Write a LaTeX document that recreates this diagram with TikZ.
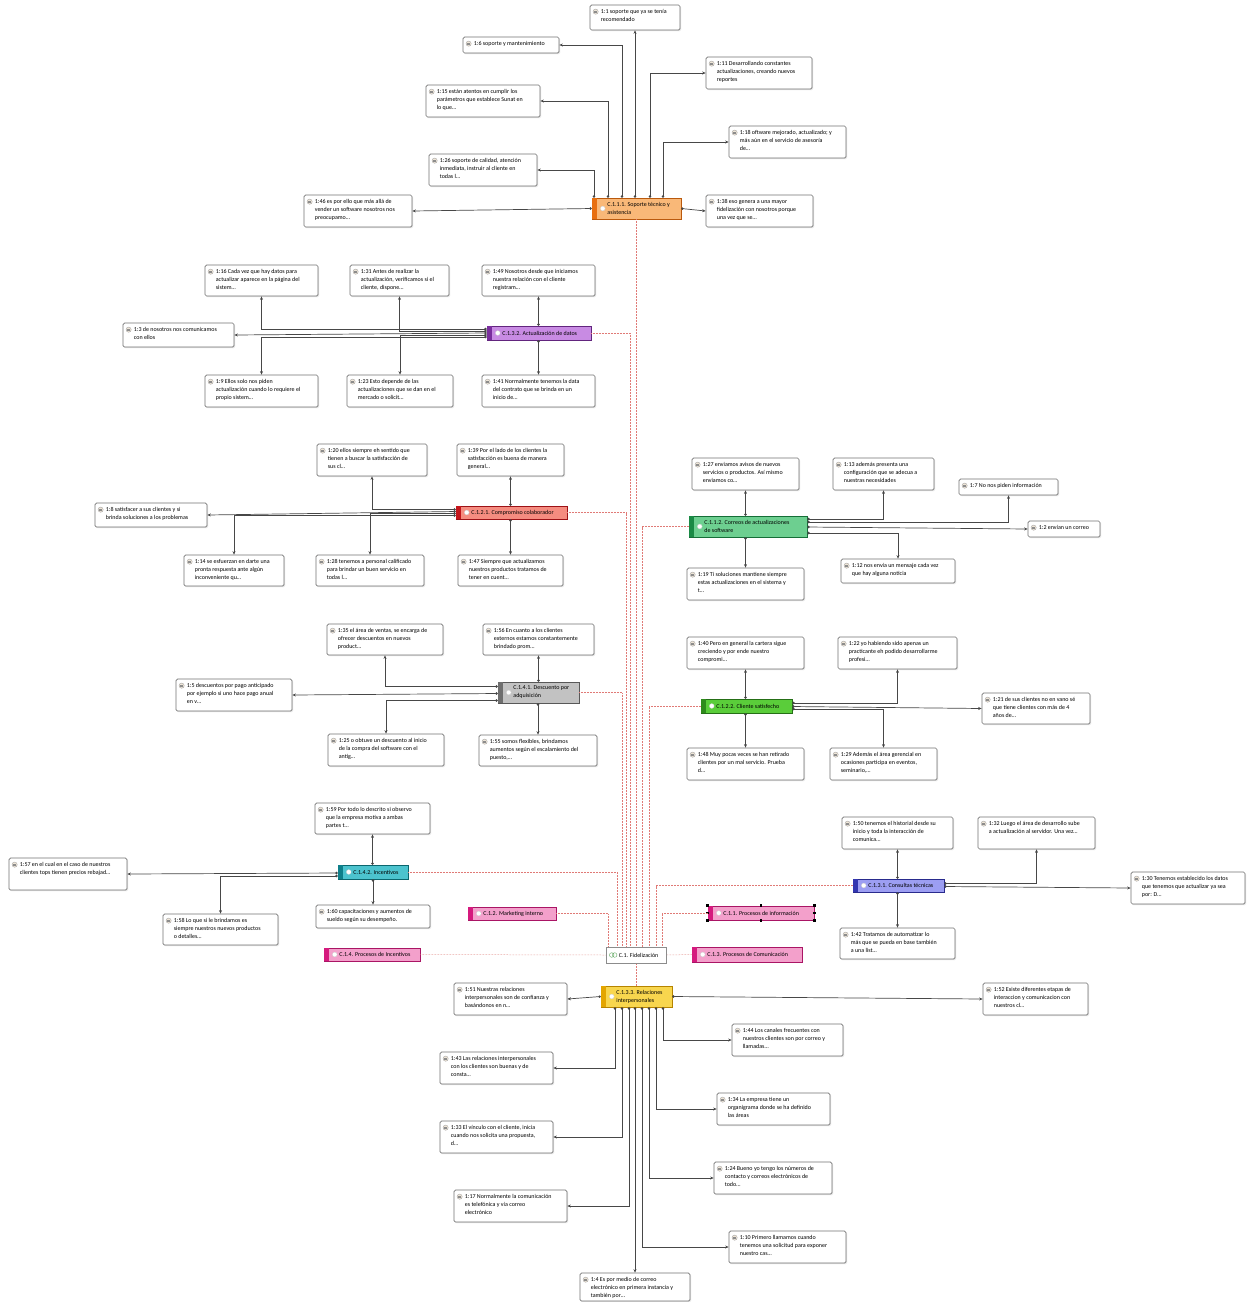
\documentclass[tikz,border=0pt]{standalone}
\usepackage{fontspec}
\setmainfont{Carlito}
\usetikzlibrary{fit,arrows.meta,calc}

% code colours: fill and stripe
\definecolor{sopF}{HTML}{F9B878}\definecolor{sopS}{HTML}{E86F10}
\definecolor{actF}{HTML}{C88BE3}\definecolor{actS}{HTML}{7A2E9E}
\definecolor{comF}{HTML}{F58C80}\definecolor{comS}{HTML}{C4161C}
\definecolor{desF}{HTML}{C2C2C2}\definecolor{desS}{HTML}{6E6E6E}
\definecolor{incF}{HTML}{4CC3CE}\definecolor{incS}{HTML}{0E7F8A}
\definecolor{corF}{HTML}{6DCF90}\definecolor{corS}{HTML}{1A8A45}
\definecolor{cliF}{HTML}{5ACD3A}\definecolor{cliS}{HTML}{2E8B1B}
\definecolor{conF}{HTML}{9C9EF2}\definecolor{conS}{HTML}{3336B0}
\definecolor{relF}{HTML}{F8D64E}\definecolor{relS}{HTML}{E3A500}
\definecolor{proF}{HTML}{F3A0CB}\definecolor{proS}{HTML}{D51A7E}
\definecolor{dotred}{HTML}{E07A76}
\definecolor{iconbg}{HTML}{EFE6D8}

\tikzset{
  qbox/.style={draw=black!55, line width=0.7pt, rounded corners=1.5pt, fill=white, inner sep=0pt},
  qshadow/.style={fill=black!10},
  qtext/.style={font=\fontsize{6}{8.2}\selectfont, text=black, align=left, inner sep=0pt},
  qicon/.style={fill=iconbg, draw=black!40, line width=0.3pt},
  cboxsty/.style={line width=0.5pt, inner sep=0pt},
  ctext/.style={font=\fontsize{6}{8}\selectfont, text=black, align=left, inner sep=0pt},
  cicon/.style={fill=white, draw=black!20, line width=0.3pt},
  link/.style={draw=black!72, line width=0.7pt,
    arrows={Circle[length=2.4pt]-Stealth[length=3.5pt,width=3pt]}},
  tie/.style={draw=dotred, line width=0.5pt, densely dotted},
  handle/.style={fill=black, inner sep=0pt, minimum size=2.6pt},
}

% quotation box: name, x1, y1, x2, y2, text
\newcommand\quotebox[6]{%
  \fill[qshadow, rounded corners=1.5pt] (#2+1.2,#3+1.2) rectangle (#4+1.2,#5+1.2);
  \node[qbox, fit={(#2,#3) (#4,#5)}] (#1) {};
  \draw[qicon] ($(#1.north west)+(6,7)$) circle (2.6pt);
  \draw[black!45, line width=0.3pt] ($(#1.north west)+(4.6,6.3)$) -- ++(2.8,0)
        ($(#1.north west)+(4.6,7.7)$) -- ++(2.8,0);
  \node[qtext, anchor=north west] at ($(#1.north west)+(11,4.3)$) {#6};
}
% code box: name, x1, y1, x2, y2, fill, stripe, text
\newcommand\codebox[8]{%
  \node[cboxsty, fill=#6, draw=#7!80!black, fit={(#2,#3) (#4,#5)}] (#1) {};
  \fill[#7] (#1.north west) rectangle ($(#1.south west)+(5.5,0)$);
  \draw[cicon] ($(#1.west)+(11,0)$) circle (2.4pt);
  \node[ctext, anchor=west] at ($(#1.west)+(15.5,0)$) {#8};
}

\begin{document}
\begin{tikzpicture}[x=1pt,y=-1pt]
\fill[white] (0,0) rectangle (1253,1302);
\useasboundingbox (0,0) rectangle (1253,1302);

% ---------- hub and process groups ----------
\node[fit={(606,947) (666,963)}, draw=black!45, fill=white, inner sep=0pt, line width=0.6pt] (fid) {};
\draw[green!45!black!60, line width=0.4pt] ($(fid.west)+(6,0)$) circle (2.3pt) ($(fid.west)+(9,0)$) circle (2.3pt);
\node[ctext, anchor=west] at ($(fid.west)+(13,0)$) {C.1. Fidelización};

\codebox{pinc}{324}{948}{420}{961}{proF}{proS}{C.1.4. Procesos de Incentivos}
\codebox{pmkt}{468}{907}{556}{920}{proF}{proS}{C.1.2. Marketing interno}
\codebox{pinf}{708}{906}{814}{920}{proF}{proS}{C.1.1. Procesos de información}
\codebox{pcom}{692}{947}{802}{962}{proF}{proS}{C.1.3. Procesos de Comunicación}
\foreach \a in {north west,north,north east,east,south east,south,south west,west}
  \node[handle] at (pinf.\a) {};

% ---------- codes ----------
\codebox{sop}{592}{198}{681}{219}{sopF}{sopS}{C.1.1.1. Soporte técnico y\\asistencia}
\codebox{act}{487}{326}{591}{340}{actF}{actS}{C.1.3.2. Actualización de datos}
\codebox{com}{456}{506}{567}{519}{comF}{comS}{C.1.2.1. Compromiso colaborador}
\codebox{des}{498}{682}{579}{703}{desF}{desS}{C.1.4.1. Descuento por\\adquisición}
\codebox{inc}{338}{865}{408}{879}{incF}{incS}{C.1.4.2. Incentivos}
\codebox{cor}{689}{516}{807}{537}{corF}{corS}{C.1.1.2. Correos de actualizaciones\\de software}
\codebox{cli}{701}{699}{792}{713}{cliF}{cliS}{C.1.2.2. Cliente satisfecho}
\codebox{con}{853}{879}{944}{892}{conF}{conS}{C.1.3.1. Consultas técnicas}
\codebox{rel}{601}{986}{672}{1007}{relF}{relS}{C.1.3.3. Relaciones\\interpersonales}

% ---------- dotted ties to the hub ----------
\draw[tie] (sop.south) -- (sop.south |- fid.north);
\draw[tie] (act.east) -| ($(fid.north)+(-6,0)$);
\draw[tie] (com.east) -| ($(fid.north)+(-10,0)$);
\draw[tie] (des.east) -| ($(fid.north)+(-14,0)$);
\draw[tie] (inc.east) -| ($(fid.north)+(-19,0)$);
\draw[tie] (pmkt.east) -| ($(fid.north)+(-28,0)$);
\draw[tie] (cor.west) -| ($(fid.north)+(6,0)$);
\draw[tie] (cli.west) -| ($(fid.north)+(13,0)$);
\draw[tie] (con.west) -| ($(fid.north)+(20,0)$);
\draw[tie] (pinf.west) -| ($(fid.north)+(26,0)$);
\draw[tie] (pinc.east) -- (fid.west);
\draw[tie] (pcom.west) -- (fid.east);
\draw[tie] (rel.north) -- (rel.north |- fid.south);

% ---------- C.1.1.1 ----------
\quotebox{n1}{590}{5}{680}{30}{1:1 soporte que ya se tenía\\recomendado}
\quotebox{n6}{463}{37}{559}{53}{1:6 soporte y mantenimiento}
\quotebox{n11}{706}{57}{812}{89}{1:11 Desarrollando constantes\\actualizaciones, creando nuevos\\reportes}
\quotebox{n15}{426}{85}{540}{117}{1:15 están atentos en cumplir los\\parámetros que establece Sunat en\\lo que…}
\quotebox{n18}{729}{126}{846}{158}{1:18 oftware mejorado, actualizado; y\\más aún en el servicio de asesoría\\de…}
\quotebox{n26}{429}{154}{537}{186}{1:26 soporte de calidad, atención\\inmediata, instruir al cliente en\\todas l…}
\quotebox{n46}{304}{195}{412}{227}{1:46 es por ello que más allá de\\vender un software nosotros nos\\preocupamo…}
\quotebox{n38}{706}{195}{813}{227}{1:38 eso genera a una mayor\\fidelización con nosotros porque\\una vez que se…}
\draw[link] ($(sop.north)+(-42.5,0)$) |- (n26.east);
\draw[link] ($(sop.north)+(-28.5,0)$) |- (n15.east);
\draw[link] ($(sop.north)+(-14.5,0)$) |- (n6.east);
\draw[link] (sop.north -| n1.south) -- (n1.south);
\draw[link] ($(sop.north)+(13.5,0)$) |- (n11.west);
\draw[link] ($(sop.north)+(26.5,0)$) |- (n18.west);
\draw[link] (sop.west) -- (n46.east);
\draw[link] (sop.east) -- (n38.west);

% ---------- C.1.3.2 ----------
\quotebox{n16}{205}{265}{318}{296}{1:16 Cada vez que hay datos para\\actualizar aparece en la página del\\sistem…}
\quotebox{n31}{350}{265}{449}{296}{1:31 Antes de realizar la\\actualización, verificamos si el\\cliente, dispone…}
\quotebox{n49}{482}{265}{595}{296}{1:49 Nosotros desde que iniciamos\\nuestra relación con el cliente\\registram…}
\quotebox{n3}{123}{323}{234}{347}{1:3 de nosotros nos comunicamos\\con ellos}
\quotebox{n9}{205}{375}{318}{407}{1:9 Ellos solo nos piden\\actualización cuando lo requiere el\\propio sistem…}
\quotebox{n23}{347}{375}{453}{407}{1:23 Esto depende de las\\actualizaciones que se dan en el\\mercado o solicit…}
\quotebox{n41}{482}{375}{595}{407}{1:41 Normalmente tenemos la data\\del contrato que se brinda en un\\inicio de…}
\draw[link] (act.north -| n49.south) -- (n49.south);
\draw[link] (act.south -| n41.north) -- (n41.north);
\draw[link] ($(act.west)+(0,-4)$) -| (n16.south);
\draw[link] ($(act.west)+(0,-2)$) -| (n31.south);
\draw[link] (act.west) -- (n3.east);
\draw[link] ($(act.west)+(0,2)$) -| (n23.north);
\draw[link] ($(act.west)+(0,4)$) -| (n9.north);

% ---------- C.1.2.1 ----------
\quotebox{n20}{317}{444}{427}{476}{1:20 ellos siempre eh sentido que\\tienen a buscar la satisfacción de\\sus cl…}
\quotebox{n39}{457}{444}{564}{476}{1:39 Por el lado de los clientes la\\satisfacción es buena de manera\\general…}
\quotebox{n8}{95}{503}{207}{527}{1:8 satisfacer a sus clientes y si\\brinda soluciones a los problemas}
\quotebox{n14}{184}{555}{284}{586}{1:14 se esfuerzan en darte una\\pronta respuesta ante algún\\inconveniente qu…}
\quotebox{n28}{316}{555}{424}{586}{1:28 tenemos a personal calificado\\para brindar un buen servicio en\\todas l…}
\quotebox{n47}{458}{555}{563}{586}{1:47 Siempre que actualizamos\\nuestros productos tratamos de\\tener en cuent…}
\draw[link] (com.north -| n39.south) -- (n39.south);
\draw[link] (com.south -| n47.north) -- (n47.north);
\draw[link] ($(com.west)+(0,-3)$) -| (n20.south);
\draw[link] ($(com.west)+(0,-1)$) -- (n8.east);
\draw[link] ($(com.west)+(0,1)$) -| (n28.north);
\draw[link] ($(com.west)+(0,3)$) -| (n14.north);

% ---------- C.1.4.1 ----------
\quotebox{n35}{327}{624}{443}{655}{1:35 el área de ventas, se encarga de\\ofrecer descuentos en nuevos\\product…}
\quotebox{n56}{483}{624}{594}{655}{1:56 En cuanto a los clientes\\externos estamos constantemente\\brindado prom…}
\quotebox{n5}{176}{679}{292}{711}{1:5 descuentos por pago anticipado\\por ejemplo si uno hace pago anual\\en v…}
\quotebox{n25}{328}{734}{444}{766}{1:25 o obtuve un descuento al inicio\\de la compra del software con el\\antig…}
\quotebox{n55}{479}{735}{597}{766}{1:55 somos flexibles, brindamos\\aumentos según el escalamiento del\\puesto,…}
\draw[link] (des.north -| n56.south) -- (n56.south);
\draw[link] (des.south -| n55.north) -- (n55.north);
\draw[link] ($(des.west)+(0,-6)$) -| (n35.south);
\draw[link] ($(des.west)+(0,1)$) -- (n5.east);
\draw[link] ($(des.west)+(0,8)$) -| (n25.north);

% ---------- C.1.4.2 ----------
\quotebox{n59}{315}{803}{430}{834}{1:59 Por todo lo descrito si observo\\que la empresa motiva a ambas\\partes t…}
\quotebox{n57}{9}{858}{127}{890}{1:57 en el cual en el caso de nuestros\\clientes tops tienen precios rebajad…}
\quotebox{n58}{163}{914}{278}{945}{1:58 Lo que si le brindamos es\\siempre nuestros nuevos productos\\o detalles…}
\quotebox{n60}{316}{905}{430}{928}{1:60 capacitaciones y aumentos de\\sueldo según su desempeño.}
\draw[link] (inc.north -| n59.south) -- (n59.south);
\draw[link] (inc.south -| n60.north) -- (n60.north);
\draw[link] ($(inc.west)+(0,1)$) -- (n57.east);
\draw[link] ($(inc.west)+(0,4)$) -| (n58.north);

% ---------- C.1.1.2 ----------
\quotebox{n27}{692}{458}{799}{490}{1:27 enviamos avisos de nuevos\\servicios o productos. Así mismo\\enviamos co…}
\quotebox{n13}{833}{458}{934}{490}{1:13 además presenta una\\configuración que se adecua a\\nuestras necesidades}
\quotebox{n7}{959}{479}{1058}{495}{1:7 No nos piden información}
\quotebox{n2}{1028}{521}{1100}{537}{1:2 envían un correo}
\quotebox{n12}{841}{559}{955}{583}{1:12 nos envía un mensaje cada vez\\que hay alguna noticia}
\quotebox{n19}{687}{568}{804}{600}{1:19 Ti soluciones mantiene siempre\\estas actualizaciones en el sistema y\\t…}
\draw[link] (cor.north -| n27.south) -- (n27.south);
\draw[link] (cor.south -| n19.north) -- (n19.north);
\draw[link] ($(cor.east)+(0,-7.5)$) -| (n13.south);
\draw[link] ($(cor.east)+(0,-4.5)$) -| (n7.south);
\draw[link] ($(cor.east)+(0,0.5)$) -- (n2.west);
\draw[link] ($(cor.east)+(0,6.5)$) -| (n12.north);

% ---------- C.1.2.2 ----------
\quotebox{n40}{687}{637}{804}{669}{1:40 Pero en general la cartera sigue\\creciendo y por ende nuestro\\compromi…}
\quotebox{n22}{838}{637}{957}{669}{1:22 yo habiendo sido apenas un\\practicante eh podido desarrollarme\\profesi…}
\quotebox{n21}{982}{693}{1090}{724}{1:21 de sus clientes no en vano sé\\que tiene clientes con más de 4\\años de…}
\quotebox{n48}{687}{748}{804}{780}{1:48 Muy pocas veces se han retirado\\clientes por un mal servicio. Prueba\\d…}
\quotebox{n29}{830}{748}{937}{780}{1:29 Además el área gerencial en\\ocasiones participa en eventos,\\seminario,…}
\draw[link] (cli.north -| n40.south) -- (n40.south);
\draw[link] (cli.south -| n48.north) -- (n48.north);
\draw[link] ($(cli.east)+(0,-3)$) -| (n22.south);
\draw[link] ($(cli.east)+(0,0.5)$) -- (n21.west);
\draw[link] ($(cli.east)+(0,3)$) -| (n29.north);

% ---------- C.1.3.1 ----------
\quotebox{n50}{842}{817}{953}{849}{1:50 tenemos el historial desde su\\inicio y toda la interacción de\\comunica…}
\quotebox{n32}{978}{817}{1095}{849}{1:32 Luego el área de desarrollo sube\\a actualización al servidor. Una vez…}
\quotebox{n30}{1131}{872}{1245}{904}{1:30 Tenemos establecido los datos\\que tenemos que actualizar ya sea\\por: D…}
\quotebox{n42}{840}{928}{955}{959}{1:42 Tratamos de automatizar lo\\más que se pueda en base también\\a una list…}
\draw[link] (con.north -| n50.south) -- (n50.south);
\draw[link] (con.south -| n42.north) -- (n42.north);
\draw[link] ($(con.east)+(0,-2)$) -| (n32.south);
\draw[link] ($(con.east)+(0,1)$) -- (n30.west);

% ---------- C.1.3.3 ----------
\quotebox{n51}{454}{983}{567}{1015}{1:51 Nuestras relaciones\\interpersonales son de confianza y\\basándonos en n…}
\quotebox{n52}{983}{983}{1088}{1015}{1:52 Existe diferentes etapas de\\interaccion y comunicacion con\\nuestros cl…}
\quotebox{n44}{732}{1024}{843}{1056}{1:44 Los canales frecuentes con\\nuestros clientes son por correo y\\llamadas…}
\quotebox{n43}{440}{1052}{553}{1084}{1:43 Las relaciones interpersonales\\con los clientes son buenas y de\\consta…}
\quotebox{n34}{717}{1093}{830}{1125}{1:34 La empresa tiene un\\organigrama donde se ha definido\\las áreas}
\quotebox{n33}{440}{1121}{553}{1153}{1:33 El vínculo con el cliente, inicia\\cuando nos solicita una propuesta,\\d…}
\quotebox{n24}{714}{1162}{832}{1194}{1:24 Bueno yo tengo los números de\\contacto y correos electrónicos de\\todo…}
\quotebox{n17}{454}{1190}{567}{1222}{1:17 Normalmente la comunicación\\es telefónica y vía correo\\electrónico}
\quotebox{n10}{729}{1231}{846}{1263}{1:10 Primero llamamos cuando\\tenemos una solicitud para exponer\\nuestro cas…}
\quotebox{n4}{580}{1273}{690}{1301}{1:4 Es por medio de correo\\electrónico en primera instancia y\\también por…}
\draw[link] (rel.west) -- (n51.east);
\draw[link] (rel.east) -- (n52.west);
\draw[link] ($(rel.south)+(-21.5,0)$) |- (n43.east);
\draw[link] ($(rel.south)+(-14.5,0)$) |- (n33.east);
\draw[link] ($(rel.south)+(-7.5,0)$) |- (n17.east);
\draw[link] (rel.south -| n4.north) -- (n4.north);
\draw[link] ($(rel.south)+(5.5,0)$) |- (n10.west);
\draw[link] ($(rel.south)+(12.5,0)$) |- (n24.west);
\draw[link] ($(rel.south)+(19.5,0)$) |- (n34.west);
\draw[link] ($(rel.south)+(26.5,0)$) |- (n44.west);
\end{tikzpicture}
\end{document}
